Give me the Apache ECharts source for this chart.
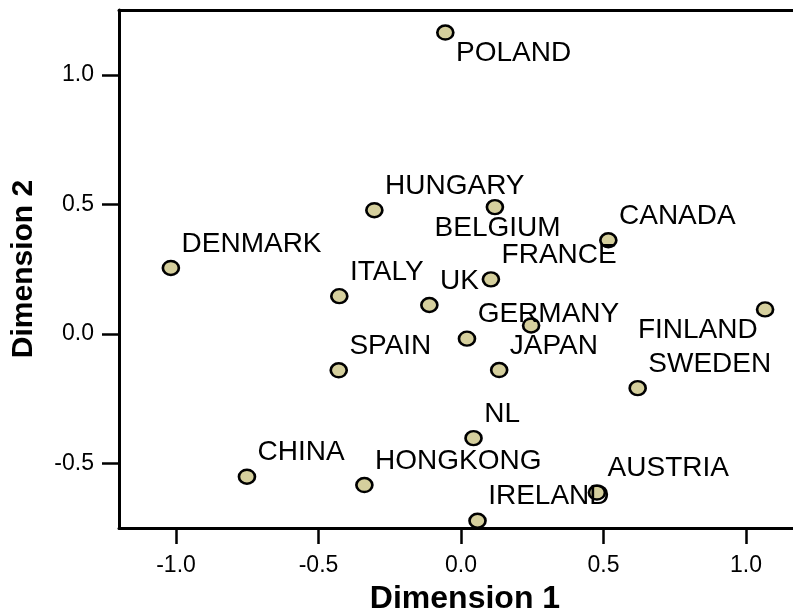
<!DOCTYPE html>
<html>
<head>
<meta charset="utf-8">
<script src="https://cdn.jsdelivr.net/npm/echarts@6/dist/echarts.min.js"></script>
<style>
	html, body { margin: 0; padding: 0; background: #fff; }
	#mdsplot { width: 793px; height: 615px; }
</style>
</head>
<body>
<div id="mdsplot"></div>
<script>
var countries = ['POLAND', 'HUNGARY', 'BELGIUM', 'CANADA', 'DENMARK', 'FRANCE', 'ITALY', 'UK', 'FINLAND',
	'GERMANY', '', 'SPAIN', 'JAPAN', 'SWEDEN', 'NL', 'CHINA', 'HONGKONG', 'AUSTRIA', 'IRELAND'];
var dim1 = [-0.055, -0.304, 0.119, 0.517, -1.018, 0.105, -0.427, -0.111, 1.067,
	0.021, 0.246, -0.429, 0.134, 0.620, 0.044, -0.751, -0.339, 0.477, 0.058];
var dim2 = [1.163, 0.477, 0.489, 0.361, 0.254, 0.210, 0.145, 0.111, 0.094,
	-0.019, 0.032, -0.141, -0.140, -0.210, -0.403, -0.552, -0.584, -0.613, -0.722];
var xTicks = [-1.0, -0.5, 0.0, 0.5, 1.0];
var yTicks = [-0.5, 0.0, 0.5, 1.0];

// marker is 16 x 14, label positions are relative to its top-left corner
var labelSpots = {
	'POLAND': { position: [20, 29], align: 'left', verticalAlign: 'middle' },
	'BELGIUM': { position: [12, 29], align: 'center', verticalAlign: 'middle' },
	'FINLAND': { position: [2, 29], align: 'right', verticalAlign: 'middle' }
};

function loadMds() {
	var chart = echarts.init(document.getElementById('mdsplot'), null, { renderer: 'canvas' });
	var fontName = 'Liberation Sans, Arial, sans-serif';

	var points = [];
	for (var i = 0; i < countries.length; i++) {
		var p = { name: countries[i], value: [dim1[i], dim2[i]] };
		if (labelSpots[countries[i]]) {
			p.label = labelSpots[countries[i]];
		}
		points.push(p);
	}

	function fmt(v) {
		return v.toFixed(1);
	}

	var option = {
		backgroundColor: '#fff',
		animation: false,
		grid: { left: 119, right: 0, top: 10, bottom: 87, containLabel: false, outerBoundsMode: 'none' },
		xAxis: [{
			type: 'value',
			position: 'bottom',
			min: -1.2,
			max: 1.165,
			name: 'Dimension 1',
			nameLocation: 'middle',
			nameGap: 55,
			nameTextStyle: { fontFamily: fontName, color: '#000', fontSize: 32, fontWeight: 'bold', padding: [0, 0, 0, 18] },
			axisLine: { onZero: false, lineStyle: { color: '#000', width: 3 } },
			axisTick: { show: true, customValues: xTicks, length: 16, lineStyle: { color: '#000', width: 2.5 } },
			axisLabel: { customValues: xTicks, formatter: fmt, margin: 26, fontSize: 23, fontFamily: fontName, color: '#000' },
			splitLine: { show: false }
		}, {
			type: 'value',
			position: 'top',
			min: -1.2,
			max: 1.165,
			axisLine: { onZero: false, lineStyle: { color: '#000', width: 3 } },
			axisTick: { show: false },
			axisLabel: { show: false },
			splitLine: { show: false }
		}],
		yAxis: {
			type: 'value',
			min: -0.75,
			max: 1.25,
			name: 'Dimension 2',
			nameLocation: 'middle',
			nameGap: 80,
			nameTextStyle: { fontFamily: fontName, color: '#000', fontSize: 30, fontWeight: 'bold' },
			axisLine: { onZero: false, lineStyle: { color: '#000', width: 3 } },
			axisTick: { show: true, customValues: yTicks, length: 17, lineStyle: { color: '#000', width: 2.5 } },
			axisLabel: { customValues: yTicks, formatter: fmt, margin: 25, fontSize: 23, fontFamily: fontName, color: '#000' },
			splitLine: { show: false }
		},
		series: [{
			type: 'scatter',
			xAxisIndex: 0,
			symbol: 'path://M0,50 A50,50 0 1,1 100,50 A50,50 0 1,1 0,50 Z',
			symbolSize: [16, 14],
			itemStyle: { color: '#d5cf9d', borderColor: '#000', borderWidth: 2.5, opacity: 1 },
			label: {
				show: true,
				position: [20, -16],
				align: 'left',
				verticalAlign: 'middle',
				formatter: '{b}',
				fontSize: 28,
				fontFamily: fontName,
				color: '#000'
			},
			z: 3,
			data: points
		}]
	};
	chart.setOption(option);
}

loadMds();
</script>
</body>
</html>
